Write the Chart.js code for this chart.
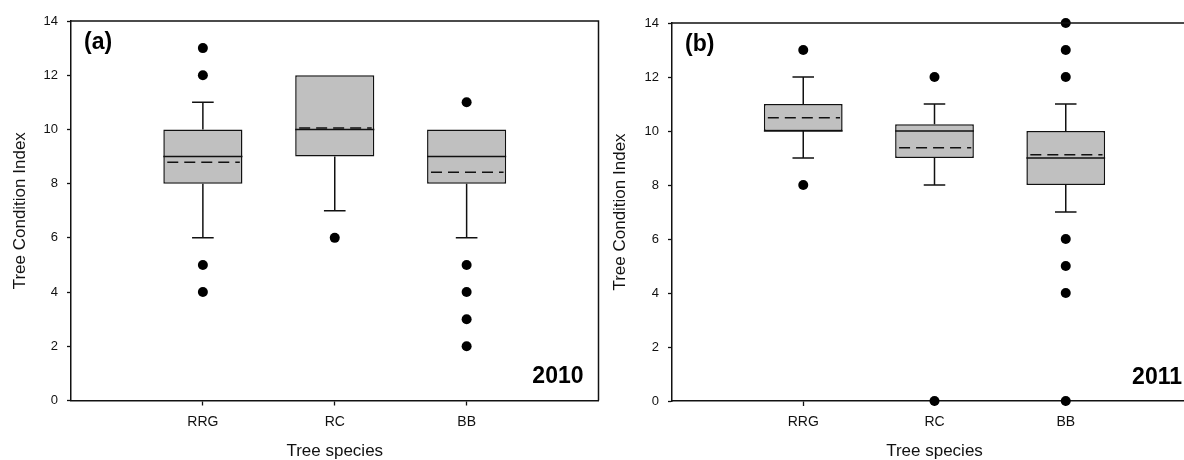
<!DOCTYPE html>
<html><head><meta charset="utf-8">
<script src="https://cdn.jsdelivr.net/npm/chart.js@4.4.0/dist/chart.umd.min.js"></script>
<style>
html,body{margin:0;padding:0;background:#fff;overflow:hidden;width:1184px;height:460px;}
#wrap{position:relative;width:1184px;height:460px;overflow:hidden;background:#fff;}
canvas{position:absolute;top:0;}
</style></head><body>
<div id="wrap">
<canvas id="c1" width="600" height="460" style="left:0"></canvas>
<canvas id="c2" width="600" height="460" style="left:600px"></canvas>
</div>
<script>
// ---- data ----
const categories = ['RRG', 'RC', 'BB'];
const yTicks = [0, 2, 4, 6, 8, 10, 12, 14];
const panelLabels = ['(a)', '(b)'];
const years = ['2010', '2011'];

// 2010
const q1_2010 = [8, 9, 8];
const q3_2010 = [10, 12, 10];
const median_2010 = [9, 10, 9];
const mean_2010 = [8.79, 10.05, 8.42];
const whiskerLow_2010 = [6, 7, 6];
const whiskerHigh_2010 = [11, 12, 10];
const outliers_2010 = [[13, 12, 5, 4], [6], [11, 5, 4, 3, 2]];

// 2011
const q1_2011 = [10, 9, 8];
const q3_2011 = [11, 10.25, 10];
const median_2011 = [10, 10, 9];
const mean_2011 = [10.49, 9.38, 9.12];
const whiskerLow_2011 = [9, 8, 7];
const whiskerHigh_2011 = [12, 11, 11];
const outliers_2011 = [[13, 8], [12, 0], [14, 13, 12, 6, 5, 4, 0]];

// ---- build ----
const FONT = '"Liberation Sans", Arial, Helvetica, sans-serif';
const BOX_HALF = 0.3, CAP_HALF = 0.082;
const INK = '#111';

function buildDatasets(q1, q3, med, mean, wLo, wHi, outl) {
  const bars = categories.map((c, i) => ({ x: i + 1, y: [q1[i], q3[i]] }));
  const whisk = [];
  categories.forEach((c, i) => {
    const x = i + 1;
    if (wHi[i] > q3[i]) {
      whisk.push({ x: x, y: q3[i] }, { x: x, y: wHi[i] }, { x: x, y: null });
      whisk.push({ x: x - CAP_HALF, y: wHi[i] }, { x: x + CAP_HALF, y: wHi[i] }, { x: x, y: null });
    }
    if (wLo[i] < q1[i]) {
      whisk.push({ x: x, y: q1[i] }, { x: x, y: wLo[i] }, { x: x, y: null });
      whisk.push({ x: x - CAP_HALF, y: wLo[i] }, { x: x + CAP_HALF, y: wLo[i] }, { x: x, y: null });
    }
  });
  const meds = [], means = [], pts = [];
  categories.forEach((c, i) => {
    const x = i + 1;
    meds.push({ x: x - BOX_HALF, y: med[i] }, { x: x + BOX_HALF, y: med[i] }, { x: x, y: null });
    means.push({ x: x - BOX_HALF + 0.03, y: mean[i] }, { x: x + BOX_HALF - 0.02, y: mean[i] }, { x: x, y: null });
    outl[i].forEach(v => pts.push({ x: x, y: v }));
  });
  const lineBase = { type: 'line', pointRadius: 0, borderColor: INK, borderWidth: 1.5, fill: false, spanGaps: false, tension: 0 };
  return [
    { type: 'bar', data: bars, backgroundColor: '#c0c0c0', borderColor: INK, borderWidth: 1.5, borderSkipped: false,
      barPercentage: 0.6, categoryPercentage: 1.0, order: 10 },
    Object.assign({}, lineBase, { data: whisk, order: 5 }),
    Object.assign({}, lineBase, { data: meds, order: 4 }),
    Object.assign({}, lineBase, { data: means, borderDash: [11, 6], order: 3 }),
    { type: 'scatter', data: pts, pointRadius: 5, pointBackgroundColor: '#000', pointBorderWidth: 0, clip: false, order: 1 }
  ];
}

const framePlugin = {
  id: 'frame',
  afterDraw(chart, args, opts) {
    const { ctx, chartArea: a } = chart;
    ctx.save();
    ctx.strokeStyle = INK; ctx.lineWidth = 1.5;
    ctx.beginPath();
    ctx.moveTo(a.left, a.top); ctx.lineTo(a.right, a.top); ctx.lineTo(a.right, a.bottom);
    ctx.stroke();
    ctx.fillStyle = '#000';
    ctx.font = 'bold 23px ' + FONT;
    ctx.textBaseline = 'middle';
    ctx.textAlign = 'left';
    ctx.fillText(opts.panel, a.left + 13, a.top + 22);
    ctx.textAlign = 'right';
    ctx.fillText(opts.year, a.right - 15, a.bottom - 23.5);
    ctx.restore();
  }
};

function makeChart(id, datasets, panel, year, lay) {
  return new Chart(document.getElementById(id), {
    type: 'bar',
    data: { datasets: datasets },
    plugins: [framePlugin],
    options: {
      responsive: false, animation: false, devicePixelRatio: 1,
      layout: { autoPadding: false, padding: { left: 0, right: lay.right, top: lay.top, bottom: 0 } },
      plugins: { legend: { display: false }, tooltip: { enabled: false }, frame: { panel: panel, year: year } },
      scales: {
        x: {
          type: 'linear', min: 0, max: 4, offset: false,
          afterBuildTicks: s => { s.ticks = categories.map((c, i) => ({ value: i + 1 })); },
          afterFit: s => { s.height = lay.xh; s.paddingLeft = 0; s.paddingRight = 0; },
          ticks: { callback: v => categories[v - 1], color: '#111', font: { family: FONT, size: 14 }, padding: 8, maxRotation: 0, autoSkip: false },
          grid: { display: true, drawOnChartArea: false, drawTicks: true, tickLength: 5, tickColor: INK, tickWidth: 1.3, offset: false },
          border: { display: true, color: INK, width: 1.5 },
          title: { display: true, text: 'Tree species', color: '#111', font: { family: FONT, size: 17, lineHeight: 1 }, padding: { top: 0, bottom: 0 } }
        },
        y: {
          type: 'linear', min: yTicks[0], max: yTicks[yTicks.length - 1],
          afterBuildTicks: s => { s.ticks = yTicks.map(v => ({ value: v })); },
          afterFit: s => { s.width = lay.yw; },
          ticks: { color: '#111', font: { family: FONT, size: 13 }, padding: 9 },
          grid: { display: true, drawOnChartArea: false, drawTicks: true, tickLength: 4, tickColor: INK, tickWidth: 1.3 },
          border: { display: true, color: INK, width: 1.5 },
          title: { display: true, text: 'Tree Condition Index', color: '#111', font: { family: FONT, size: 17, lineHeight: 1.2 }, padding: { top: 10, bottom: 0 } }
        }
      }
    }
  });
}

makeChart('c1', buildDatasets(q1_2010, q3_2010, median_2010, mean_2010, whiskerLow_2010, whiskerHigh_2010, outliers_2010),
  panelLabels[0], years[0], { right: 1.5, top: 21, xh: 59.5, yw: 71 });
makeChart('c2', buildDatasets(q1_2011, q3_2011, median_2011, mean_2011, whiskerLow_2011, whiskerHigh_2011, outliers_2011),
  panelLabels[1], years[1], { right: 3, top: 23, xh: 59, yw: 72 });
</script>
</body></html>
